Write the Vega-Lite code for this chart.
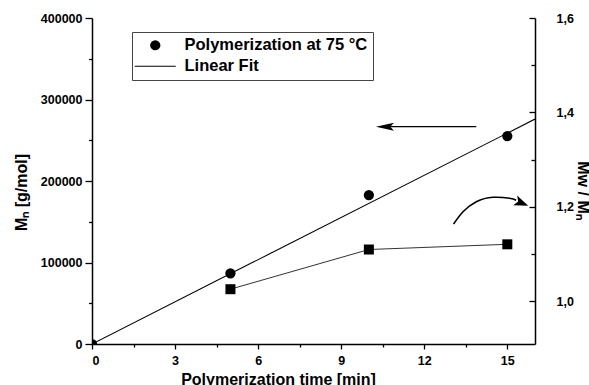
{
  "$schema": "https://vega.github.io/schema/vega-lite/v6.json",
  "width": 443,
  "height": 326,
  "autosize": {"type": "none"},
  "padding": {"left": 92, "top": 18, "right": 54, "bottom": 41},
  "background": "white",
  "config": {
    "view": {"stroke": null},
    "axis": {
      "grid": false,
      "domainColor": "black",
      "domainWidth": 1.5,
      "tickColor": "black",
      "tickWidth": 1.3,
      "labelFont": "Liberation Sans",
      "labelFontWeight": "bold",
      "labelFontSize": 12.5,
      "labelColor": "black",
      "titleFont": "Liberation Sans",
      "titleFontWeight": "bold",
      "titleFontSize": 16,
      "titleColor": "black"
    }
  },
  "layer": [
    {
      "layer": [
        {
          "data": {"values": [{"t": 0, "mn": 0}, {"t": 16, "mn": 276000}]},
          "mark": {"type": "line", "color": "black", "strokeWidth": 1.1, "clip": true},
          "encoding": {
            "x": {
              "field": "t", "type": "quantitative", "title": "Polymerization time [min]",
              "scale": {"domain": [0, 16], "nice": false, "zero": false},
              "axis": {
                "values": [0, 1.5, 3, 4.5, 6, 7.5, 9, 10.5, 12, 13.5, 15],
                "labelExpr": "datum.value % 3 === 0 ? format(datum.value, 'd') : ''",
                "tickSize": {"condition": {"test": "datum.value % 3 !== 0", "value": 3}, "value": 5},
                "labelPadding": 5,
                "titleX": 186, "titleY": 40, "titleAlign": "center", "titleBaseline": "alphabetic"
              }
            },
            "y": {
              "field": "mn", "type": "quantitative", "title": "Mₙ [g/mol]",
              "scale": {"domain": [0, 400000], "nice": false},
              "axis": {
                "values": [0, 50000, 100000, 150000, 200000, 250000, 300000, 350000, 400000],
                "labelExpr": "datum.value % 100000 === 0 ? format(datum.value, 'd') : ''",
                "tickSize": {"condition": {"test": "datum.value % 100000 !== 0", "value": 3.5}, "value": 7},
                "labelPadding": 3,
                "titleX": -66, "titleY": 174, "titleAngle": -90, "titleAlign": "center", "titleBaseline": "alphabetic"
              }
            }
          }
        },
        {
          "data": {"values": [
            {"t": 0, "mn": 0, "s": "Polymerization at 75 °C"},
            {"t": 5, "mn": 86750, "s": "Polymerization at 75 °C"},
            {"t": 10, "mn": 182800, "s": "Polymerization at 75 °C"},
            {"t": 15, "mn": 255200, "s": "Polymerization at 75 °C"}
          ]},
          "mark": {"type": "point", "filled": true, "fill": "black", "opacity": 1, "size": 105, "clip": true},
          "encoding": {
            "x": {"field": "t", "type": "quantitative", "title": "Polymerization time [min]"},
            "y": {"field": "mn", "type": "quantitative", "title": "Mₙ [g/mol]"},
            "shape": {
              "field": "s", "type": "nominal",
              "scale": {"domain": ["Polymerization at 75 °C", "Linear Fit"], "range": ["circle", "M-4,-0.11H4V0.11H-4Z"]},
              "legend": {"title": null, "orient": "none", "legendX": 40, "legendY": 14, "strokeColor": "#444", "padding": 5,
                "labelFont": "Liberation Sans", "labelFontSize": 16.5, "labelFontWeight": "bold", "labelColor": "black", "labelLimit": 400,
                "labelExpr": "datum.label + '\u00a0'",
                "symbolSize": 105, "symbolFillColor": "black", "symbolOpacity": 1, "symbolOffset": 10, "labelOffset": 21, "rowPadding": 4}
            }
          }
        },
        {
          "data": {"values": [{"t": 10.7, "t2": 13.88, "mn": 266600}]},
          "mark": {"type": "rule", "color": "black", "strokeWidth": 1.3},
          "encoding": {
            "x": {"field": "t", "type": "quantitative", "title": "Polymerization time [min]"},
            "x2": {"field": "t2"},
            "y": {"field": "mn", "type": "quantitative", "title": "Mₙ [g/mol]"}
          }
        },
        {
          "data": {"values": [{"t": 10.58, "mn": 266600}]},
          "mark": {"type": "point", "filled": true, "color": "black", "opacity": 1, "size": 324, "shape": "M-1,0L1,-0.45L0.6,0L1,0.45Z"},
          "encoding": {
            "x": {"field": "t", "type": "quantitative", "title": "Polymerization time [min]"},
            "y": {"field": "mn", "type": "quantitative", "title": "Mₙ [g/mol]"}
          }
        },
        {
          "data": {"values": [
            {"t": 13.06, "mn": 147240, "o": 1},
            {"t": 13.40, "mn": 162330, "o": 2},
            {"t": 13.88, "mn": 174600, "o": 3},
            {"t": 14.48, "mn": 180000, "o": 4},
            {"t": 15.08, "mn": 178780, "o": 5},
            {"t": 15.32, "mn": 176500, "o": 6}
          ]},
          "mark": {"type": "line", "color": "black", "strokeWidth": 1.6, "interpolate": "natural"},
          "encoding": {
            "x": {"field": "t", "type": "quantitative", "title": "Polymerization time [min]"},
            "y": {"field": "mn", "type": "quantitative", "title": "Mₙ [g/mol]"},
            "order": {"field": "o", "type": "quantitative"}
          }
        },
        {
          "data": {"values": [{"t": 15.52, "mn": 173000}]},
          "mark": {"type": "point", "filled": true, "color": "black", "opacity": 1, "size": 196, "angle": 22, "shape": "M1,0L-1,-0.75L-0.55,0L-1,0.75Z"},
          "encoding": {
            "x": {"field": "t", "type": "quantitative", "title": "Polymerization time [min]"},
            "y": {"field": "mn", "type": "quantitative", "title": "Mₙ [g/mol]"}
          }
        }
      ]
    },
    {
      "data": {"values": [
        {"t": 5, "pdi": 1.026},
        {"t": 10, "pdi": 1.110},
        {"t": 15, "pdi": 1.121}
      ]},
      "encoding": {
        "x": {"field": "t", "type": "quantitative", "title": "Polymerization time [min]"},
        "y": {
          "field": "pdi", "type": "quantitative", "title": "Mw / Mₙ",
          "scale": {"domain": [0.91, 1.6], "nice": false, "zero": false},
          "axis": {
            "orient": "right",
            "values": [1.0, 1.1, 1.2, 1.3, 1.4, 1.5, 1.6],
            "labelExpr": "round(datum.value * 10) % 2 === 0 ? replace(format(datum.value, '.1f'), '.', ',') : ''",
            "tickSize": {"condition": {"test": "round(datum.value * 10) % 2 !== 0", "value": -4}, "value": -6},
            "labelPadding": 27,
            "titleX": 42, "titleY": 172, "titleAngle": 90, "titleAlign": "center", "titleBaseline": "alphabetic"
          }
        }
      },
      "layer": [
        {"mark": {"type": "line", "color": "#333", "strokeWidth": 1}},
        {"mark": {"type": "point", "shape": "square", "filled": true, "color": "black", "opacity": 1, "size": 100}}
      ]
    }
  ],
  "resolve": {"scale": {"y": "independent"}}
}
